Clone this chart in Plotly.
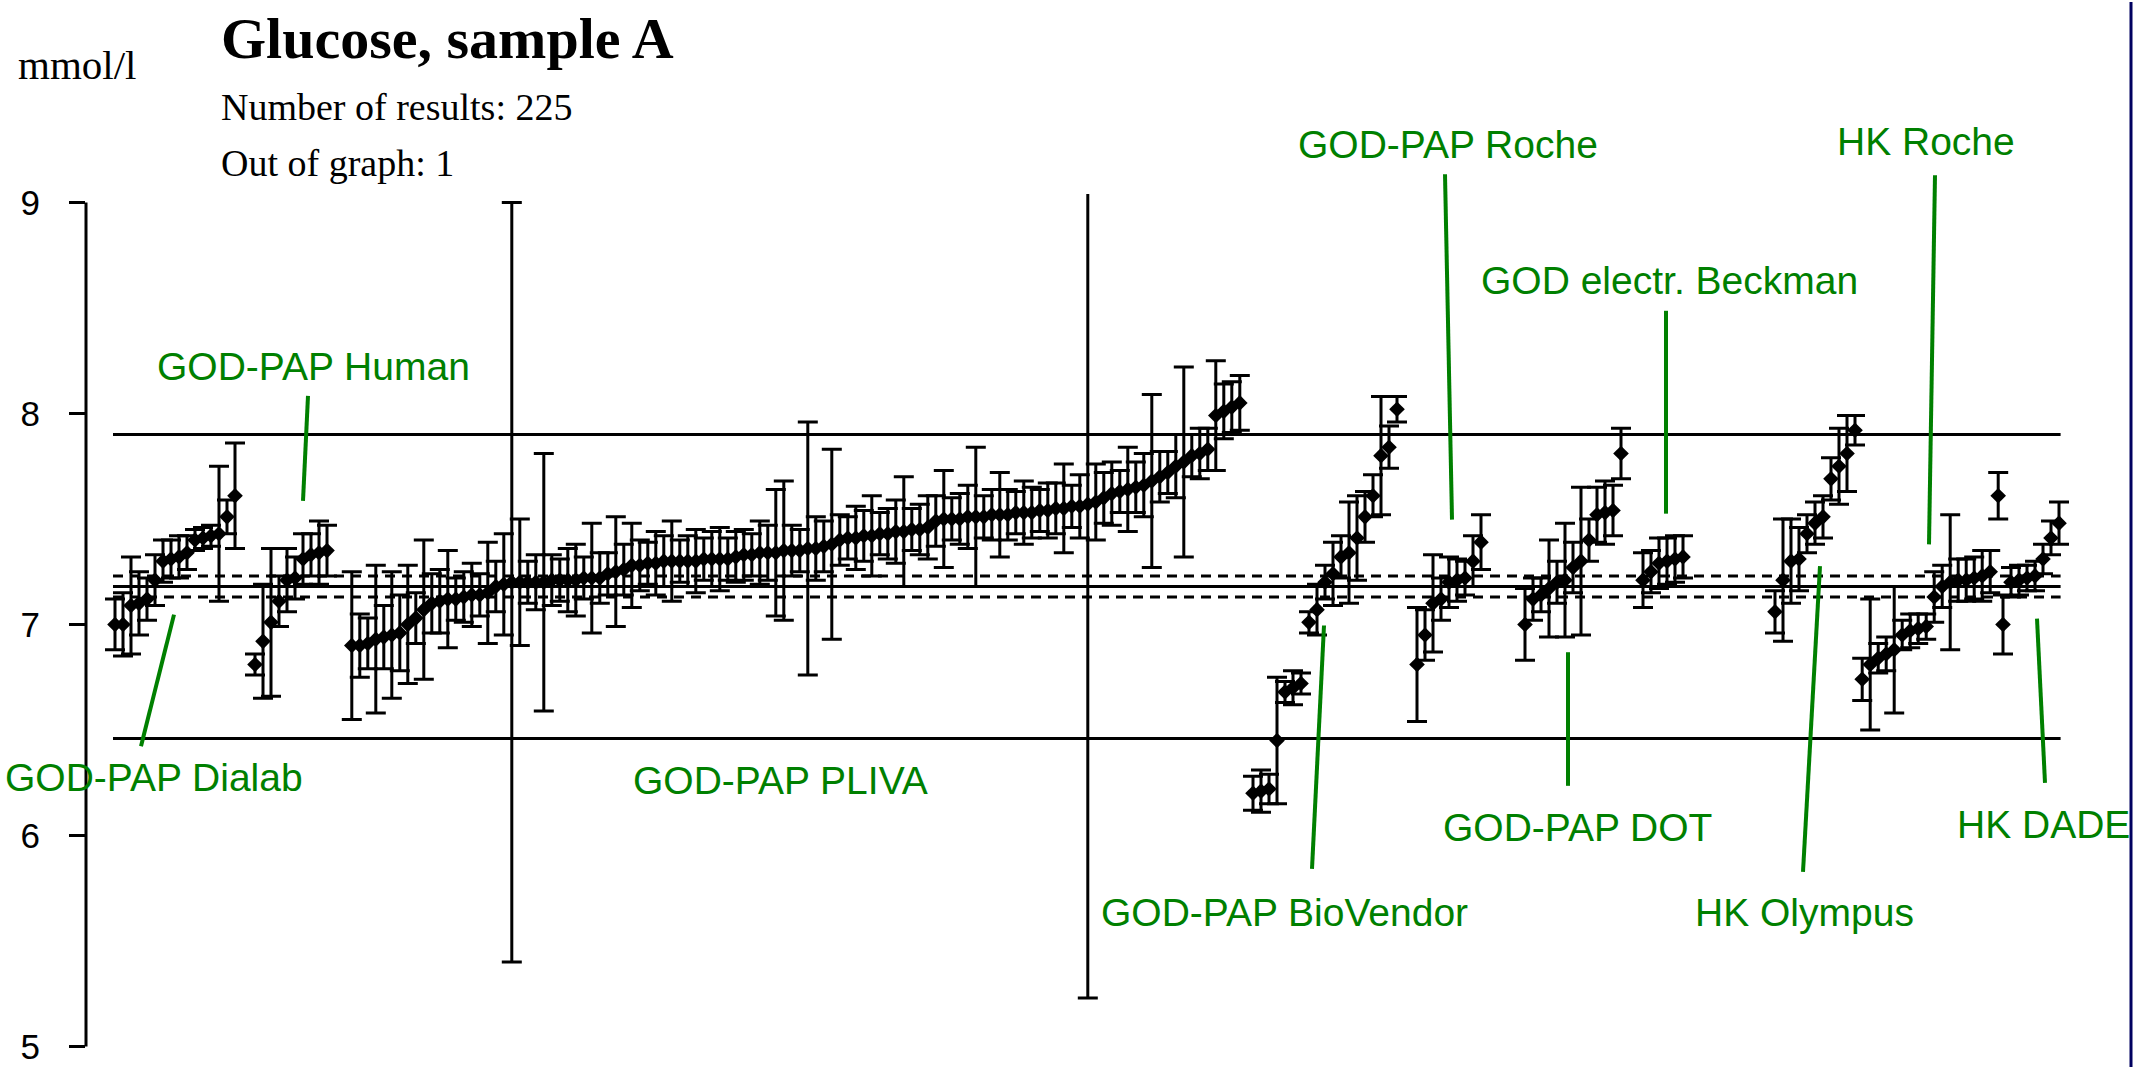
import plotly.graph_objects as go

# ---------------- data ----------------
group_names = ["GOD-PAP Dialab", "GOD-PAP Human", "GOD-PAP PLIVA", "GOD-PAP BioVendor",
               "GOD-PAP Roche", "GOD-PAP DOT", "GOD electr. Beckman", "HK Olympus",
               "HK Roche", "HK DADE"]

dialab_mean = [7.00, 7.00, 7.09, 7.10, 7.12, 7.21, 7.30, 7.31, 7.32, 7.34, 7.40, 7.41, 7.42, 7.43, 7.51, 7.61]
dialab_sd = [0.12, 0.15, 0.23, 0.15, 0.10, 0.12, 0.10, 0.09, 0.10, 0.08, 0.05, 0.05, 0.05, 0.32, 0.08, 0.25]

human_mean = [6.81, 6.92, 7.01, 7.11, 7.21, 7.22, 7.31, 7.33, 7.34, 7.35]
human_sd = [0.05, 0.27, 0.35, 0.12, 0.15, 0.10, 0.12, 0.10, 0.15, 0.12]

pliva_mean = [6.90, 6.90, 6.91,
              6.93, 6.94, 6.95, 6.96,
              7.00, 7.03,
              7.07,
              7.10, 7.11, 7.12, 7.12, 7.13, 7.14, 7.14, 7.15,
              7.18, 7.19, 7.20, 7.20, 7.20, 7.20, 7.20, 7.21, 7.21, 7.21, 7.21, 7.22, 7.22, 7.22,
              7.24, 7.25, 7.26,
              7.28, 7.28, 7.29, 7.29, 7.30, 7.30, 7.30, 7.30, 7.30, 7.31, 7.31, 7.31, 7.31, 7.32,
              7.33, 7.33, 7.34, 7.34, 7.34, 7.35, 7.35, 7.35, 7.36, 7.36, 7.37, 7.38,
              7.40, 7.41, 7.41, 7.42, 7.42, 7.43, 7.43, 7.44, 7.44, 7.45, 7.45, 7.46,
              7.49, 7.50, 7.50, 7.50, 7.51, 7.51, 7.51, 7.52, 7.52, 7.52, 7.53, 7.53, 7.53, 7.54, 7.54,
              7.55, 7.55, 7.56, 7.56, 7.57, 7.58,
              7.60, 7.62, 7.63, 7.64, 7.65, 7.66,
              7.68, 7.70, 7.72, 7.75, 7.77,
              7.80, 7.81, 7.83,
              7.99, 8.01, 8.03, 8.05]
pliva_sd = [0.35, 0.15, 0.12,
            0.35, 0.15, 0.30, 0.18,
            0.28, 0.12,
            0.33,
            0.14, 0.15, 0.23, 0.10, 0.12, 0.15, 0.10, 0.24,
            0.12, 0.24, 1.80, 0.30, 0.10, 0.13, 0.61, 0.12, 0.10, 0.15, 0.17, 0.10, 0.26, 0.12,
            0.10, 0.26, 0.12,
            0.20, 0.12, 0.10, 0.15, 0.12, 0.19, 0.10, 0.12, 0.15, 0.10, 0.13, 0.15, 0.10, 0.12,
            0.12, 0.10, 0.15, 0.13, 0.30, 0.33, 0.12, 0.10, 0.60, 0.15, 0.12, 0.45,
            0.12, 0.10, 0.15, 0.12, 0.19, 0.10, 0.12, 0.15, 0.26, 0.10, 0.12, 0.15,
            0.12, 0.23, 0.10, 0.12, 0.15, 0.33, 0.10, 0.12, 0.20, 0.12, 0.10, 0.15, 0.12, 0.10, 0.13,
            0.12, 0.21, 0.10, 0.15, 2.34, 0.18,
            0.12, 0.15, 0.10, 0.20, 0.12, 0.15,
            0.41, 0.12, 0.10, 0.15, 0.45,
            0.10, 0.12, 0.10,
            0.26, 0.13, 0.12, 0.13]

biovendor_mean = [6.20, 6.21, 6.22, 6.45, 6.68, 6.70, 6.72, 7.01, 7.07, 7.20, 7.24, 7.32, 7.34,
                  7.41, 7.51, 7.61, 7.80, 7.84, 8.02]
biovendor_sd = [0.08, 0.10, 0.07, 0.30, 0.05, 0.08, 0.05, 0.05, 0.12, 0.08, 0.15, 0.10, 0.24,
                0.20, 0.12, 0.10, 0.28, 0.10, 0.06]

roche_mean = [6.81, 6.95, 7.10, 7.12, 7.20, 7.21, 7.22, 7.30, 7.39]
roche_sd = [0.27, 0.12, 0.23, 0.10, 0.12, 0.10, 0.08, 0.12, 0.13]

dot_mean = [7.00, 7.12, 7.14, 7.17, 7.20, 7.21, 7.27, 7.30, 7.40, 7.52, 7.53, 7.54, 7.81]
dot_sd = [0.17, 0.10, 0.08, 0.23, 0.10, 0.27, 0.12, 0.35, 0.10, 0.13, 0.15, 0.12, 0.12]

beckman_mean = [7.21, 7.25, 7.29, 7.30, 7.31, 7.32]
beckman_sd = [0.13, 0.10, 0.12, 0.11, 0.11, 0.10]

olympus_mean = [7.06, 7.21, 7.30, 7.31, 7.43, 7.48, 7.51, 7.69, 7.75, 7.81, 7.92]
olympus_sd = [0.10, 0.29, 0.20, 0.15, 0.09, 0.10, 0.10, 0.10, 0.18, 0.18, 0.07]

hkroche_mean = [6.74, 6.81, 6.84, 6.86, 6.88, 6.95, 6.97, 6.98, 6.99, 7.13, 7.18, 7.20, 7.21,
                7.21, 7.22, 7.23, 7.25, 7.61]
hkroche_sd = [0.10, 0.31, 0.07, 0.08, 0.30, 0.07, 0.08, 0.07, 0.06, 0.12, 0.10, 0.32, 0.10,
              0.10, 0.10, 0.12, 0.10, 0.11]

dade_mean = [7.00, 7.20, 7.21, 7.22, 7.23, 7.31, 7.41, 7.48]
dade_sd = [0.14, 0.07, 0.07, 0.06, 0.07, 0.07, 0.08, 0.10]

# x slot where each group starts (layout)
group_start = [0, 17.5, 29.6, 142.25, 162.75, 176.25, 191, 207.5, 218.4, 236]

assigned_value = 7.18
limit_upper = 7.90
limit_lower = 6.46
band_upper = 7.23
band_lower = 7.13

y_ticks = [5, 6, 7, 8, 9]

means = [dialab_mean, human_mean, pliva_mean, biovendor_mean, roche_mean, dot_mean,
         beckman_mean, olympus_mean, hkroche_mean, dade_mean]
sds = [dialab_sd, human_sd, pliva_sd, biovendor_sd, roche_sd, dot_sd,
       beckman_sd, olympus_sd, hkroche_sd, dade_sd]

# ---------------- layout helpers ----------------
W, H = 2147, 1076
ML, MR, MT, MB = 86, 17, 194, 10
PW, PH = W - ML - MR, H - MT - MB


def px(xp, yp):
    return (xp - ML) / PW, (H - MB - yp) / PH


fig = go.Figure()

for name, m, s, x0 in zip(group_names, means, sds, group_start):
    xs = [x0 + i for i in range(len(m))]
    fig.add_trace(go.Scatter(
        x=xs, y=m, mode="markers", name=name, showlegend=False,
        marker=dict(symbol="diamond", size=12, color="black"),
        error_y=dict(type="data", array=s, symmetric=True, color="black",
                     thickness=3, width=10),
    ))

last_x = group_start[-1] + len(dade_mean) - 1
first_x = group_start[0] - 0.25

shapes = []
for yv in (assigned_value, limit_upper, limit_lower):
    shapes.append(dict(type="line", xref="x", yref="y", x0=first_x, x1=last_x + 0.2,
                       y0=yv, y1=yv, line=dict(color="black", width=3), layer="below"))
for yv in (band_upper, band_lower):
    shapes.append(dict(type="line", xref="x", yref="y", x0=first_x, x1=last_x + 0.2,
                       y0=yv, y1=yv, line=dict(color="black", width=3, dash="10px,7px"),
                       layer="below"))
# y axis line from 5 to 9
shapes.append(dict(type="line", xref="paper", yref="y", x0=0, x1=0, y0=y_ticks[0], y1=y_ticks[-1],
                   line=dict(color="black", width=3)))
# right border
bx, _ = px(2131, 0)
shapes.append(dict(type="line", xref="paper", yref="paper", x0=bx, x1=bx, y0=px(0, H)[1],
                   y1=px(0, 0)[1], line=dict(color="#000060", width=3)))

# green labels: (text, label centre px, pointer line px or None)
labels = [
    ("GOD-PAP Dialab", (154, 784), ((141, 752), (174, 619))),
    ("GOD-PAP Human", (313, 368), ((308, 398), (303, 504))),
    ("GOD-PAP PLIVA", (780, 787), None),
    ("GOD-PAP BioVendor", (1284, 920), ((1312, 876), (1324, 630))),
    ("GOD-PAP Roche", (1448, 144), ((1445, 174), (1452, 523))),
    ("GOD electr. Beckman", (1669, 281), ((1666, 312), (1666, 517))),
    ("GOD-PAP DOT", (1577, 834), ((1568, 657), (1568, 792))),
    ("HK Olympus", (1804, 920), ((1803, 879), (1820, 570))),
    ("HK Roche", (1926, 141), ((1935, 175), (1929, 548))),
    ("HK DADE", (2043, 831), ((2045, 789), (2037, 623))),
]

annotations = []
GREEN = "#008000"
for text, (cx, cy), line in labels:
    ax, ay = px(cx, cy)
    annotations.append(dict(text=text, x=ax, y=ay, xref="paper", yref="paper",
                            xanchor="center", yanchor="middle", showarrow=False,
                            font=dict(family="Liberation Sans, Arial", size=39, color=GREEN)))
    if line:
        (x0, y0), (x1, y1) = line
        p0, p1 = px(x0, y0), px(x1, y1)
        shapes.append(dict(type="line", xref="paper", yref="paper", x0=p0[0], y0=p0[1],
                           x1=p1[0], y1=p1[1], line=dict(color=GREEN, width=4)))

serif = "Liberation Serif, Times New Roman, serif"
for text, (lx, cy), size in [
    ("<b>Glucose, sample A</b>", (219, 37), 58),
    ("mmol/l", (16, 64), 41),
    ("Number of results: 225", (219, 106), 38),
    ("Out of graph: 1", (219, 163), 38),
]:
    ax, ay = px(lx, cy)
    annotations.append(dict(text=text, x=ax, y=ay, xref="paper", yref="paper",
                            xanchor="left", yanchor="middle", showarrow=False,
                            font=dict(family=serif, size=size, color="black")))

fig.update_layout(
    width=W, height=H,
    margin=dict(l=ML, r=MR, t=MT, b=MB, pad=0),
    paper_bgcolor="white", plot_bgcolor="white",
    xaxis=dict(range=[-3.625, 251.875], visible=False, showgrid=False, zeroline=False),
    yaxis=dict(range=[4.95, 9.04], tickvals=y_ticks, ticktext=[str(t) for t in y_ticks],
               ticks="outside", ticklen=16, tickwidth=3, tickcolor="black",
               showgrid=False, zeroline=False, showline=False,
               ticklabelstandoff=22,
               tickfont=dict(family="Liberation Sans, Arial", size=35, color="black")),
    shapes=shapes, annotations=annotations,
)

fig.write_html("out.html")
